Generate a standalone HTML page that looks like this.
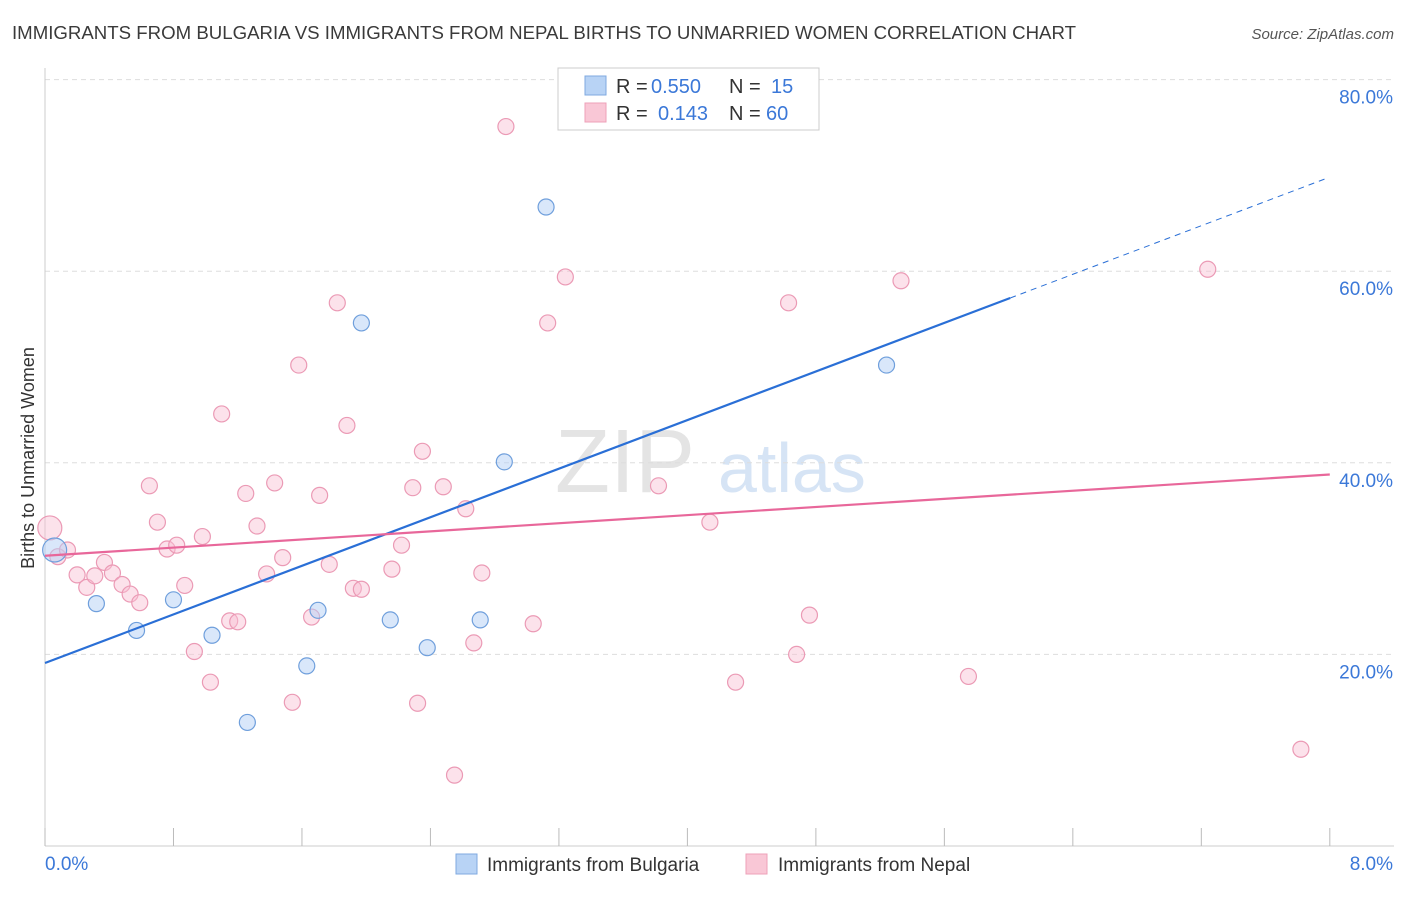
<!DOCTYPE html>
<html><head><meta charset="utf-8"><style>
body{margin:0;background:#fff;font-family:"Liberation Sans",sans-serif}
svg text{font-family:"Liberation Sans",sans-serif}
</style></head><body>
<svg id="c" width="1406" height="892">
<text x="12" y="39" font-size="18" fill="#3a3a3a" textLength="1064" lengthAdjust="spacingAndGlyphs">IMMIGRANTS FROM BULGARIA VS IMMIGRANTS FROM NEPAL BIRTHS TO UNMARRIED WOMEN CORRELATION CHART</text>
<text x="1394" y="39" font-size="15" fill="#555" text-anchor="end" font-style="italic">Source: ZipAtlas.com</text>
<text x="555" y="492" font-size="90" fill="#e4e4e4" font-family="Liberation Serif">ZIP</text>
<text x="718" y="492" font-size="70" fill="#d6e4f5">atlas</text>
<text transform="translate(34,458) rotate(-90)" font-size="18" fill="#333" text-anchor="middle">Births to Unmarried Women</text>
<g id="grid"></g><g id="marks"></g>
<g>
<rect x="558" y="68" width="261" height="62" fill="#fff" stroke="#ccc"/>
<rect x="585" y="76" width="21" height="19" fill="#b8d3f5" stroke="#7fa9e0"/>
<rect x="585" y="103" width="21" height="19" fill="#f9c7d6" stroke="#eea0b8"/>
<text x="616" y="93" font-size="20" fill="#333">R =</text>
<text x="651" y="93" font-size="20" fill="#3b78d8">0.550</text>
<text x="729" y="93" font-size="20" fill="#333">N =</text>
<text x="771" y="93" font-size="20" fill="#3b78d8">15</text>
<text x="616" y="120" font-size="20" fill="#333">R =</text>
<text x="658" y="120" font-size="20" fill="#3b78d8">0.143</text>
<text x="729" y="120" font-size="20" fill="#333">N =</text>
<text x="766" y="120" font-size="20" fill="#3b78d8">60</text>
</g>
<g>
<rect x="456" y="854" width="21" height="20" fill="#b8d3f5" stroke="#7fa9e0"/>
<text x="487" y="871" font-size="19" fill="#333">Immigrants from Bulgaria</text>
<rect x="746" y="854" width="21" height="20" fill="#f9c7d6" stroke="#eea0b8"/>
<text x="778" y="871" font-size="19" fill="#333">Immigrants from Nepal</text>
</g>
</svg>
<script>
const yTicks=[20,40,60,80];
const xTickLabels=["0.0%","8.0%"];
const blueX=[0.06,0.32,0.57,0.80,1.04,1.26,1.63,1.70,1.97,2.15,2.38,2.71,2.86,3.12,5.24];
const blueY=[30.9,25.3,22.5,25.7,22.0,12.9,18.8,24.6,54.6,23.6,20.7,23.6,40.1,66.7,50.2];
const pinkX=[0.03,0.08,0.14,0.20,0.26,0.31,0.37,0.42,0.48,0.53,0.59,0.65,0.70,0.76,0.82,0.87,0.93,0.98,1.03,1.10,1.15,1.20,1.25,1.32,1.38,1.43,1.48,1.54,1.58,1.66,1.71,1.77,1.82,1.88,1.92,1.97,2.16,2.22,2.29,2.32,2.35,2.48,2.55,2.62,2.67,2.72,2.87,3.04,3.13,3.24,3.82,4.14,4.30,4.63,4.68,4.76,5.33,5.75,7.24,7.82];
const pinkY=[33.2,30.2,30.9,28.3,27.0,28.2,29.6,28.5,27.3,26.3,25.4,37.6,33.8,31.0,31.4,27.2,20.3,32.3,17.1,45.1,23.5,23.4,36.8,33.4,28.4,37.9,30.1,15.0,50.2,23.9,36.6,29.4,56.7,43.9,26.9,26.8,28.9,31.4,37.4,14.9,41.2,37.5,7.4,35.2,21.2,28.5,75.1,23.2,54.6,59.4,37.6,33.8,17.1,56.7,20.0,24.1,59.0,17.7,60.2,10.1];
const blueTrend=[19.1,6.34];const pinkTrend=[30.3,1.06];
const X=v=>45+v*160.6, Y=v=>846-v*9.58;
const NS="http://www.w3.org/2000/svg";
function mk(t,a,p){const e=document.createElementNS(NS,t);for(const k in a)e.setAttribute(k,a[k]);p.appendChild(e);return e;}
const g=document.getElementById('grid'),m=document.getElementById('marks');
yTicks.forEach(t=>{
 const ln=mk('line',{x1:45,y1:Y(t),x2:1394,y2:Y(t),stroke:'#ddd','stroke-dasharray':'5,4'},g);
 
 
 const tx=mk('text',{x:1393,y:Y(t)+24,'font-size':19,fill:'#3b78d8','text-anchor':'end'},g);tx.textContent=t.toFixed(1)+'%';
 
 
});
mk('line',{x1:45,y1:68,x2:45,y2:846,stroke:'#ccc'},g);
mk('line',{x1:45,y1:846,x2:1394,y2:846,stroke:'#ccc'},g);
for(let i=0;i<=10;i++){mk('line',{x1:X(i*0.8),y1:828,x2:X(i*0.8),y2:846,stroke:'#bbb'},g);}
let t1=mk('text',{x:45,y:870,'font-size':19,fill:'#3b78d8'},g);t1.textContent=xTickLabels[0];


let t2=mk('text',{x:1393,y:870,'font-size':19,fill:'#3b78d8','text-anchor':'end'},g);t2.textContent=xTickLabels[1];


pinkX.forEach((x,i)=>{const c=mk('circle',{cx:X(x),cy:Y(pinkY[i]),r:i==0?12:8,fill:'rgba(249,190,210,0.45)',stroke:'#eb9ab5','stroke-width':1.2},m);
 
 });
blueX.forEach((x,i)=>{const c=mk('circle',{cx:X(x),cy:Y(blueY[i]),r:i==0?12:8,fill:'rgba(180,208,245,0.5)',stroke:'#6f9fdc','stroke-width':1.2},m);
 
 });
const bl=mk('line',{x1:X(0),y1:Y(blueTrend[0]),x2:X(6.01),y2:Y(blueTrend[0]+blueTrend[1]*6.01),stroke:'#2a6fd6','stroke-width':2.2},m);


const bd=mk('line',{x1:X(6.01),y1:Y(blueTrend[0]+blueTrend[1]*6.01),x2:X(7.97),y2:Y(blueTrend[0]+blueTrend[1]*7.97),stroke:'#2a6fd6','stroke-width':1,'stroke-dasharray':'6,5'},m);


const pl=mk('line',{x1:X(0),y1:Y(pinkTrend[0]),x2:X(8),y2:Y(pinkTrend[0]+pinkTrend[1]*8),stroke:'#e8679a','stroke-width':2.2},m);


</script>
</body></html>
